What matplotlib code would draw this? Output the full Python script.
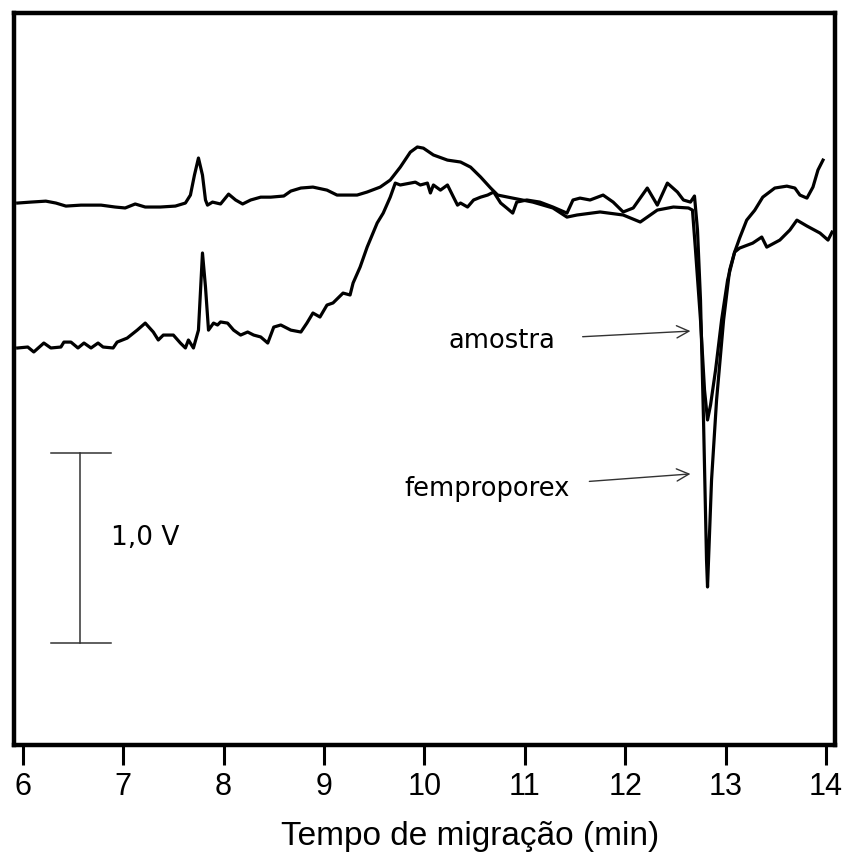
import matplotlib
matplotlib.use("Agg")
import matplotlib.pyplot as plt
import numpy as np

# traço superior (amostra): tempo (min) e sinal (V)
t_amostra = [5.95, 6.08, 6.23, 6.33, 6.43, 6.58, 6.78, 6.92, 7.02, 7.12, 7.22, 7.37, 7.52, 7.62,
             7.67, 7.71, 7.75, 7.79, 7.82, 7.84, 7.89, 7.97, 8.05, 8.12, 8.19, 8.27, 8.37, 8.47,
             8.60, 8.67, 8.77, 8.89, 9.03, 9.13, 9.33, 9.43, 9.56, 9.66, 9.76, 9.86, 9.93, 9.99,
             10.09, 10.23, 10.36, 10.46, 10.56, 10.66, 10.73, 10.88, 11.08, 11.28, 11.42, 11.52,
             11.75, 11.98, 12.15, 12.32, 12.48, 12.63, 12.67, 12.70, 12.75, 12.79, 12.82, 12.85,
             12.90, 12.96, 13.02, 13.09, 13.14, 13.21, 13.29, 13.37, 13.49, 13.61, 13.69, 13.74,
             13.81, 13.87, 13.92, 13.97]
v_amostra = [2.858, 2.863, 2.868, 2.858, 2.842, 2.847, 2.847, 2.837, 2.832, 2.853, 2.837, 2.837,
             2.842, 2.858, 2.900, 3.005, 3.095, 3.005, 2.874, 2.847, 2.863, 2.853, 2.905, 2.874,
             2.853, 2.874, 2.889, 2.889, 2.895, 2.921, 2.937, 2.942, 2.926, 2.900, 2.900, 2.916,
             2.942, 2.979, 3.047, 3.126, 3.153, 3.147, 3.111, 3.084, 3.074, 3.047, 2.995, 2.937,
             2.900, 2.884, 2.863, 2.832, 2.784, 2.795, 2.811, 2.795, 2.758, 2.821, 2.837, 2.832,
             2.821, 2.611, 2.242, 1.874, 1.716, 1.795, 1.979, 2.242, 2.453, 2.600, 2.674, 2.768,
             2.820, 2.889, 2.937, 2.947, 2.937, 2.900, 2.884, 2.942, 3.032, 3.084]

# traço inferior (femproporex)
t_femp = [5.95, 6.05, 6.11, 6.21, 6.28, 6.38, 6.41, 6.48, 6.55, 6.61, 6.68, 6.75, 6.80, 6.90,
          6.94, 7.04, 7.14, 7.22, 7.30, 7.35, 7.40, 7.50, 7.57, 7.62, 7.65, 7.70, 7.75, 7.79,
          7.82, 7.85, 7.90, 7.94, 7.97, 8.04, 8.10, 8.17, 8.24, 8.30, 8.37, 8.44, 8.50, 8.57,
          8.67, 8.77, 8.83, 8.89, 8.96, 9.03, 9.09, 9.19, 9.26, 9.29, 9.36, 9.43, 9.53, 9.59,
          9.66, 9.71, 9.76, 9.86, 9.91, 9.96, 10.03, 10.06, 10.09, 10.16, 10.23, 10.29, 10.33,
          10.36, 10.43, 10.49, 10.56, 10.63, 10.69, 10.76, 10.82, 10.88, 10.92, 11.02, 11.15,
          11.28, 11.42, 11.48, 11.55, 11.65, 11.78, 11.88, 11.98, 12.08, 12.22, 12.32, 12.42,
          12.52, 12.58, 12.65, 12.69, 12.72, 12.75, 12.78, 12.81, 12.82, 12.83, 12.86, 12.91,
          12.98, 13.04, 13.09, 13.14, 13.27, 13.36, 13.41, 13.54, 13.64, 13.71, 13.81, 13.94,
          14.02, 14.06]
v_femp = [2.095, 2.100, 2.074, 2.121, 2.095, 2.100, 2.126, 2.126, 2.095, 2.121, 2.095, 2.121,
          2.100, 2.095, 2.126, 2.147, 2.189, 2.226, 2.179, 2.137, 2.163, 2.163, 2.121, 2.095,
          2.137, 2.095, 2.189, 2.595, 2.416, 2.189, 2.226, 2.216, 2.232, 2.226, 2.189, 2.163,
          2.179, 2.163, 2.153, 2.121, 2.205, 2.216, 2.189, 2.179, 2.226, 2.279, 2.258, 2.321,
          2.332, 2.384, 2.374, 2.437, 2.521, 2.626, 2.753, 2.805, 2.889, 2.963, 2.953, 2.963,
          2.968, 2.953, 2.963, 2.911, 2.953, 2.926, 2.953, 2.889, 2.847, 2.858, 2.837, 2.874,
          2.889, 2.900, 2.916, 2.858, 2.832, 2.805, 2.863, 2.874, 2.863, 2.837, 2.805, 2.874,
          2.884, 2.874, 2.900, 2.863, 2.811, 2.832, 2.937, 2.847, 2.963, 2.916, 2.874, 2.863,
          2.895, 2.716, 2.347, 1.716, 0.979, 0.837, 0.979, 1.400, 1.821, 2.242, 2.505, 2.600,
          2.621, 2.647, 2.679, 2.626, 2.663, 2.716, 2.768, 2.737, 2.700, 2.663, 2.705]

ticks = [6, 7, 8, 9, 10, 11, 12, 13, 14]

fig = plt.figure(figsize=(8.44, 8.57), dpi=100)
ax = fig.add_axes([0.016, 0.1307, 0.9728, 0.8547])

ax.plot(t_amostra, v_amostra, color='black', lw=2.3, solid_joinstyle='round')
ax.plot(t_femp, v_femp, color='black', lw=2.3, solid_joinstyle='round')

# barra de escala de 1,0 V
ax.plot([6.566, 6.566], [0.542, 1.542], color='#333333', lw=1.1)
ax.plot([6.278, 6.875], [1.542, 1.542], color='#333333', lw=1.1)
ax.plot([6.278, 6.875], [0.542, 0.542], color='#333333', lw=1.1)
ax.text(6.875, 1.095, '1,0 V', fontsize=19, family='DejaVu Sans', va='center', ha='left')

# rótulos com setas
ax.annotate('amostra', xy=(12.65, 2.184), xytext=(11.30, 2.132), fontsize=18.5,
            family='DejaVu Sans', ha='right', va='center',
            arrowprops=dict(arrowstyle='->', color='#333333', lw=1.0,
                            mutation_scale=22, shrinkA=18, shrinkB=0))
ax.annotate('femproporex', xy=(12.65, 1.432), xytext=(11.45, 1.353), fontsize=18.5,
            family='DejaVu Sans', ha='right', va='center',
            arrowprops=dict(arrowstyle='->', color='#333333', lw=1.0,
                            mutation_scale=22, shrinkA=12, shrinkB=0))

ax.set_xlim(5.908, 14.085)
ax.set_ylim(0.005, 3.861)
ax.set_xticks(ticks)
ax.set_xticklabels([str(t) for t in ticks], family='Liberation Sans', fontsize=22)
ax.set_yticks([])
ax.tick_params(axis='x', direction='out', length=14.5, width=2.2, pad=5)
ax.set_xlabel('Tempo de migração (min)', family='Liberation Sans', fontsize=24)
ax.xaxis.set_label_coords(0.556, -0.104)
for s in ax.spines.values():
    s.set_linewidth(3.2)

fig.savefig('out.png', dpi=100)
